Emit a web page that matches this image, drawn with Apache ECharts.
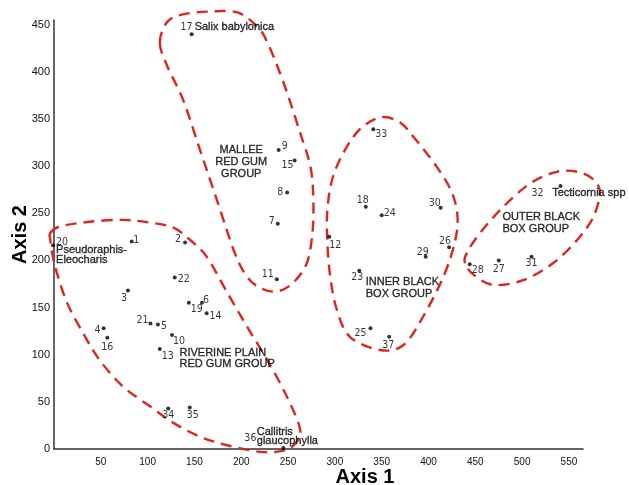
<!DOCTYPE html>
<html>
<head>
<meta charset="utf-8">
<script src="https://cdn.jsdelivr.net/npm/echarts@6/dist/echarts.min.js"></script>
<style>html,body{margin:0;padding:0;background:#fff}#c{width:629px;height:485px}</style>
</head>
<body>
<div id="c"></div>
<script>
// ---- data ----
var pointIds = [1,2,3,4,5,6,7,8,9,10,11,12,13,14,15,16,17,18,19,20,21,22,23,24,25,26,27,28,29,30,31,32,33,34,35,36,37];
var pointX = [83,140,79,53,111,158,239,249,240,126,238,294,113,163,257,57,147,333,144,-1,103,129,326,350,338,422,475,444,397,413,510,541,341,122,145,245,358];
var pointY = [220,219,168,128,132,155,239,272,317,121,180,225,106,144,306,118,440,257,155,216,133,182,189,248,128,214,200,196,204,256,204,279,339,43,44,1,119];

var speciesIds = [17,20,32,36];
var speciesNames = ['Salix babylonica','Pseudoraphis-\nEleocharis','Tecticornia spp','Callitris\nglaucophylla'];

var groupNames = ['MALLEE\nRED GUM\nGROUP','RIVERINE PLAIN\nRED GUM GROUP','INNER BLACK\nBOX GROUP','OUTER BLACK\nBOX GROUP'];
var groupX = [200,134,333,479];
var groupY = [304,96,171,240];

var malleeX = [113,121,138,167,196,217,228,245,263,274,277,276,270,255,238,220,206,193,174,156,138,121];
var malleeY = [431,453,461,464,463,448,431,389,335,299,264,229,197,176,167,171,183,208,264,317,370,406];
var riverineX = [-4,6,38,74,103,127,145,163,185,206,228,249,263,256,243,220,185,156,127,103,74,49,31,14,3,-2,-4];
var riverineY = [229,236,241,243,240,235,222,204,166,130,94,55,20,4,-2,-3,4,13,28,45,66,94,123,155,187,208,222];
var innerX = [351,370,384,409,425,431,428,416,394,373,348,316,302,295,292,292,298,313,330];
var innerY = [352,346,331,299,272,246,219,183,140,110,105,119,148,183,219,254,289,321,342];
var outerX = [439,441,455,480,509,537,559,576,583,576,559,533,501,469,448];
var outerY = [197,208,229,257,282,294,294,286,272,246,222,197,179,174,185];

var xTicks = {min:0, max:565, interval:50};
var yTicks = {min:0, max:455, interval:50};

// ---- styles (label placement per point: dx, dy, align) ----
var numLabelPos = {
  1:[1.5,-1.5,'left'],2:[-4,-3,'right'],3:[-1,8,'right'],4:[-3,2,'right'],5:[3,2,'left'],
  6:[1,-3,'left'],7:[-3,-2,'right'],8:[-4,0,'right'],9:[3,-4,'left'],10:[1,6,'left'],
  11:[-3,-5,'right'],12:[0,8,'left'],13:[2,7,'left'],14:[3,3,'left'],15:[-1,5,'right'],
  16:[0,10,'center'],17:[1,-7,'right'],18:[-3,-6,'center'],19:[2,6,'left'],20:[3,-3,'left'],
  21:[-2,-3,'right'],22:[3,2,'left'],23:[-2,6,'center'],24:[2,-2,'left'],25:[-4,5,'right'],
  26:[-4,-6,'center'],27:[0,9,'center'],28:[2,6,'left'],29:[-3,-4,'center'],30:[0,-4,'right'],
  31:[0,7,'center'],32:[-17,7,'right'],33:[2,5,'left'],34:[0,7,'center'],35:[3,8,'center'],
  36:[-27,-10,'right'],37:[-1,8,'center']
};
var nameLabelPos = {17:[3,-7,9],20:[3,9.5,9.5],32:[-8.4,7,9],36:[-26.6,-12,9]};
var groupAlign = ['center','left','left','left'];
var groupLH = [12,11,11.6,11.6];
var RED = '#e2231a';
var NUMFONT = '"DejaVu Sans Condensed","DejaVu Sans",sans-serif';
var TXTFONT = '"Liberation Sans",Arial,sans-serif';
var THICK = {textBorderColor: '#000', textBorderWidth: 0.35};

function closedPath(pts) {
  var n = pts.length, d = 'M' + pts[0][0] + ',' + pts[0][1];
  for (var i = 0; i < n; i++) {
    var p0 = pts[(i - 1 + n) % n], p1 = pts[i], p2 = pts[(i + 1) % n], p3 = pts[(i + 2) % n];
    var c1 = [p1[0] + (p2[0] - p0[0]) / 6, p1[1] + (p2[1] - p0[1]) / 6];
    var c2 = [p2[0] - (p3[0] - p1[0]) / 6, p2[1] - (p3[1] - p1[1]) / 6];
    d += ' C' + c1[0] + ',' + c1[1] + ' ' + c2[0] + ',' + c2[1] + ' ' + p2[0] + ',' + p2[1];
  }
  return d + ' Z';
}
function outlineSeries(xs, ys) {
  return {
    type: 'custom', coordinateSystem: 'cartesian2d', clip: false, silent: true, z: 1,
    data: xs.map(function (x, i) { return [x, ys[i]]; }),
    renderItem: function (params, api) {
      if (params.dataIndex !== 0) return null;
      var pts = xs.map(function (x, i) { return api.coord([x, ys[i]]); });
      return { type: 'path', shape: { pathData: closedPath(pts) },
        style: { fill: 'none', stroke: RED, lineWidth: 2.4, lineDash: [11, 7] } };
    }
  };
}
function thick(o) { for (var k in THICK) o[k] = THICK[k]; return o; }

var chart = echarts.init(document.getElementById('c'), null, {renderer: 'canvas'});
var option = {
  animation: false,
  backgroundColor: '#fff',
  grid: {left: 54, right: 46, top: 20, bottom: 36, containLabel: false, outerBoundsMode: 'none'},
  xAxis: {
    type: 'value', min: xTicks.min, max: xTicks.max, interval: xTicks.interval,
    splitLine: {show: false}, axisTick: {show: false},
    axisLine: {lineStyle: {color: '#333', width: 1.5}},
    axisLabel: {fontSize: 10, color: '#111', margin: 8, fontFamily: TXTFONT, showMaxLabel: false,
      formatter: function (v) { return v === 0 ? '' : String(v); }},
    name: 'Axis 1', nameLocation: 'middle', nameGap: 18, nameMoveOverlap: false,
    nameTextStyle: {fontSize: 20, fontWeight: 'bold', color: '#000', fontFamily: TXTFONT, padding: [0, 0, 0, 93]}
  },
  yAxis: {
    type: 'value', min: yTicks.min, max: yTicks.max, interval: yTicks.interval,
    splitLine: {show: false}, axisTick: {show: false},
    axisLine: {lineStyle: {color: '#333', width: 1.5}},
    axisLabel: {fontSize: 11, color: '#111', margin: 4, fontFamily: TXTFONT, showMaxLabel: false},
    name: 'Axis 2', nameLocation: 'middle', nameGap: 24, nameRotate: 90, nameMoveOverlap: false,
    nameTextStyle: {fontSize: 20, fontWeight: 'bold', color: '#000', fontFamily: TXTFONT}
  },
  series: [
    outlineSeries(malleeX, malleeY),
    outlineSeries(riverineX, riverineY),
    outlineSeries(innerX, innerY),
    outlineSeries(outerX, outerY),
    {
      type: 'scatter', clip: false, silent: true, z: 3, symbolSize: 4,
      itemStyle: {color: '#000'},
      data: pointIds.map(function (id, i) {
        var p = numLabelPos[id];
        return {value: [pointX[i], pointY[i]], label: {
          show: true, position: 'inside', offset: [p[0], p[1]], align: p[2], verticalAlign: 'middle',
          formatter: String(id), fontSize: 10.5, color: '#000', fontFamily: NUMFONT, textBorderWidth: 0
        }};
      })
    },
    {
      type: 'scatter', clip: false, silent: true, z: 3, symbolSize: 1,
      itemStyle: {color: 'rgba(0,0,0,0)'},
      data: speciesIds.map(function (id, k) {
        var i = pointIds.indexOf(id), p = nameLabelPos[id];
        return {value: [pointX[i], pointY[i]], label: thick({
          show: true, position: 'inside', offset: [p[0], p[1]], align: 'left', verticalAlign: 'middle',
          lineHeight: p[2], formatter: speciesNames[k], fontSize: 11, color: '#000', fontFamily: TXTFONT
        })};
      })
    },
    {
      type: 'scatter', clip: false, silent: true, z: 3, symbolSize: 1,
      itemStyle: {color: 'rgba(0,0,0,0)'},
      data: groupNames.map(function (g, k) {
        return {value: [groupX[k], groupY[k]], label: thick({
          show: true, position: 'inside', align: groupAlign[k], verticalAlign: 'middle',
          lineHeight: groupLH[k], formatter: g, fontSize: 11, color: '#000', fontFamily: TXTFONT
        })};
      })
    }
  ]
};
chart.setOption(option);
</script>
</body>
</html>
